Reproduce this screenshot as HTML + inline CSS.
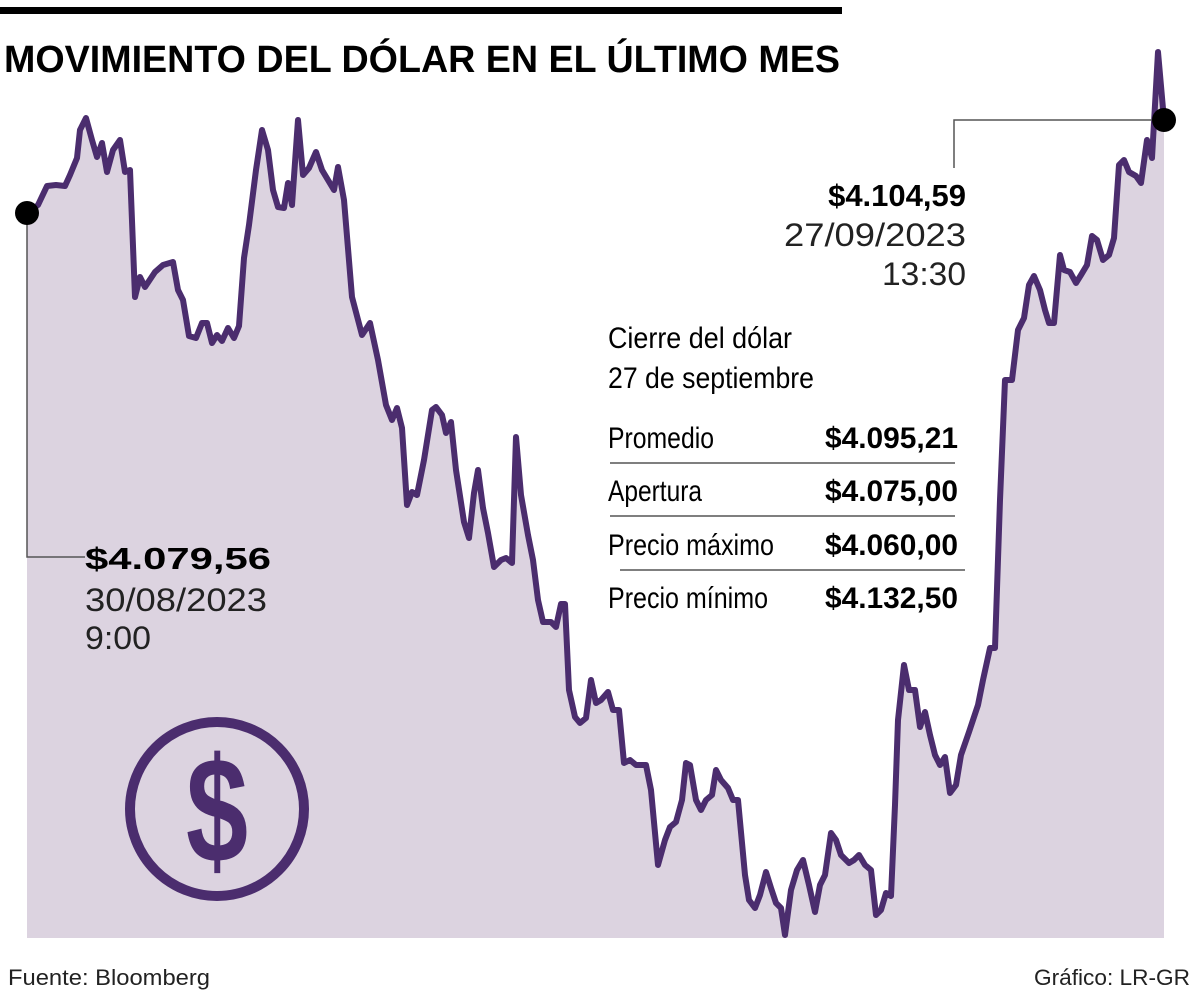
<!DOCTYPE html>
<html><head><meta charset="utf-8"><style>
html,body{margin:0;padding:0;background:#fff;width:1200px;height:996px;overflow:hidden}
svg text{font-family:"Liberation Sans",sans-serif}
</style></head><body>
<svg id="chart" width="1200" height="996" viewBox="0 0 1200 996" xmlns="http://www.w3.org/2000/svg">
<rect x="0" y="7" width="842" height="7" fill="#000"/>
<text x="4" y="72" font-size="38" font-weight="bold" textLength="836" lengthAdjust="spacingAndGlyphs">MOVIMIENTO DEL DÓLAR EN EL ÚLTIMO MES</text>
<g id="plot"></g>
<g>
<circle cx="217" cy="809" r="87" fill="none" stroke="#4b2d6e" stroke-width="10"/>
<text x="217" y="862" font-size="150" font-weight="bold" text-anchor="middle" fill="#4b2d6e" textLength="62" lengthAdjust="spacingAndGlyphs">$</text>
</g>
<polyline points="27,213 27,557 85,557" fill="none" stroke="#555" stroke-width="1.5"/>
<polyline points="954,168 954,120 1164,120" fill="none" stroke="#555" stroke-width="1.5"/>
<g id="marks"></g>
<g>
<text x="85" y="569" font-size="31" font-weight="bold" textLength="186" lengthAdjust="spacingAndGlyphs">$4.079,56</text>
<text x="85" y="611" font-size="32" fill="#222" textLength="182" lengthAdjust="spacingAndGlyphs">30/08/2023</text>
<text x="85" y="649" font-size="32" fill="#222" textLength="66" lengthAdjust="spacingAndGlyphs">9:00</text>
</g>
<g>
<text x="966" y="206" font-size="31" font-weight="bold" text-anchor="end">$4.104,59</text>
<text x="966" y="246" font-size="32" fill="#222" text-anchor="end" textLength="182" lengthAdjust="spacingAndGlyphs">27/09/2023</text>
<text x="966" y="285" font-size="32" fill="#222" text-anchor="end" textLength="84" lengthAdjust="spacingAndGlyphs">13:30</text>
</g>
<g>
<text x="608" y="348" font-size="30" textLength="184" lengthAdjust="spacingAndGlyphs">Cierre del dólar</text>
<text x="608" y="388" font-size="30" textLength="206" lengthAdjust="spacingAndGlyphs">27 de septiembre</text>
<text x="608" y="448" font-size="30" textLength="106" lengthAdjust="spacingAndGlyphs">Promedio</text>
<text x="958" y="448" font-size="30" font-weight="bold" text-anchor="end" textLength="133" lengthAdjust="spacingAndGlyphs">$4.095,21</text>
<line x1="610" y1="463" x2="955" y2="463" stroke="#333" stroke-width="1.2"/>
<text x="608" y="501" font-size="30" textLength="94" lengthAdjust="spacingAndGlyphs">Apertura</text>
<text x="958" y="501" font-size="30" font-weight="bold" text-anchor="end" textLength="133" lengthAdjust="spacingAndGlyphs">$4.075,00</text>
<line x1="610" y1="516" x2="955" y2="516" stroke="#333" stroke-width="1.2"/>
<text x="608" y="555" font-size="30" textLength="166" lengthAdjust="spacingAndGlyphs">Precio máximo</text>
<text x="958" y="555" font-size="30" font-weight="bold" text-anchor="end" textLength="133" lengthAdjust="spacingAndGlyphs">$4.060,00</text>
<line x1="620" y1="570" x2="965" y2="570" stroke="#333" stroke-width="1.2"/>
<text x="608" y="608" font-size="30" textLength="160" lengthAdjust="spacingAndGlyphs">Precio mínimo</text>
<text x="958" y="608" font-size="30" font-weight="bold" text-anchor="end" textLength="133" lengthAdjust="spacingAndGlyphs">$4.132,50</text>
</g>
<text x="8" y="985" font-size="22" fill="#222" textLength="202" lengthAdjust="spacingAndGlyphs">Fuente: Bloomberg</text>
<text x="1190" y="985" font-size="22" fill="#222" text-anchor="end" textLength="156" lengthAdjust="spacingAndGlyphs">Gráfico: LR-GR</text>
</svg>
<script>
const times = [0,11,20,29,38,43,50,53,59,65,70,75,80,86,93,98,103,108,113,118,128,136,146,151,156,162,169,175,180,185,190,195,201,207,212,217,222,229,235,241,246,251,257,261,265,271,276,282,289,295,301,307,311,317,325,335,343,351,359,365,370,375,380,385,390,397,405,409,415,419,424,429,437,442,447,451,456,461,467,474,479,485,489,494,501,506,511,516,524,529,534,538,542,548,553,559,564,569,574,581,586,592,597,603,609,619,624,631,638,643,649,655,659,663,669,674,679,685,689,694,701,706,711,718,722,728,733,739,744,749,754,758,764,770,776,782,788,793,798,804,809,814,822,827,832,838,844,849,854,859,864,868,871,877,882,888,893,898,903,908,913,918,923,929,934,942,951,956,963,968,973,978,985,991,997,1002,1007,1013,1018,1022,1027,1033,1037,1043,1049,1054,1060,1065,1070,1076,1082,1087,1092,1097,1102,1109,1114,1120,1125,1131,1137];
const prices = [4146.75,4148.75,4153.5,4153.75,4153.5,4156.25,4160.5,4167.5,4170.5,4165,4160.75,4164.25,4157,4162.5,4165,4157,4157.5,4125.75,4130.75,4128.25,4132,4133.75,4134.5,4127.5,4125,4116,4115.5,4119.25,4119.25,4114.25,4116.25,4114.75,4118,4115.5,4118.5,4135.5,4143.75,4157.5,4167.5,4162.5,4152.5,4148.25,4148,4154.25,4148.75,4170,4156.25,4158,4162,4157.5,4155,4152.5,4158.25,4150,4125.75,4116.25,4119.25,4110,4098.75,4095,4098,4093,4073.75,4077,4076.25,4085,4097.5,4098.25,4096.25,4091.75,4094.5,4082.5,4069.5,4065.5,4076.75,4082.5,4073,4066.75,4058.25,4060,4060.5,4059.25,4090.75,4076.25,4066.25,4060,4050,4044.5,4044.5,4043.25,4049,4049,4027.5,4020.75,4019.25,4020.5,4030,4024.25,4025,4027,4022.5,4022.5,4009.25,4010,4008.75,4008.75,4002.5,3983.75,3990,3993.25,3994.5,4000,4009.25,4008.75,4000,3997.5,4000,4001.25,4007.5,4005,4003,4000,4000,3981.25,3975,3973,3976.25,3982,3978,3974.25,3973,3966.25,3977.5,3982.5,3985,3978.75,3972,3978.75,3981.25,3991.75,3990,3986.25,3984.25,3985,3986.25,3983.75,3982.5,3971.25,3972.5,3976.75,3976,3998.75,4020,4033.75,4027.5,4027.5,4018.25,4022,4016.25,4011.25,4008.75,4010.75,4001.75,4003.75,4011.25,4017,4023.75,4030,4038,4038,4075,4105,4105,4117.5,4120.5,4128.75,4131,4127.5,4122.5,4119.25,4119.25,4136.25,4132.5,4132,4129.25,4131.25,4133.75,4141,4140,4135,4136.25,4140.5,4158.75,4160,4157,4156,4154.25,4165,4160.5,4187,4170];
const xDomain = [0, 1137];
const yDomain = [3965.5, 4200];
const NS = "http://www.w3.org/2000/svg";
const X0 = 27, X1 = 1164, Y0 = 938, Y1 = 0;
function xScale(t){ return X0 + (X1 - X0) * (t - xDomain[0]) / (xDomain[1] - xDomain[0]); }
function yScale(v){ return Y0 + (Y1 - Y0) * (v - yDomain[0]) / (yDomain[1] - yDomain[0]); }
const plot = document.getElementById('plot');
const marks = document.getElementById('marks');
const n = Math.min(times.length, prices.length);
let pts = [];
for (let i = 0; i < n; i++) pts.push(xScale(times[i]).toFixed(1)+','+yScale(prices[i]).toFixed(1));
const area = document.createElementNS(NS,'polygon');
area.setAttribute('points', xScale(times[0])+','+Y0+' '+pts.join(' ')+' '+xScale(times[n-1])+','+Y0);
area.setAttribute('fill','#dcd3e0');


plot.appendChild(area);
const line = document.createElementNS(NS,'polyline');
line.setAttribute('points', pts.join(' '));
line.setAttribute('fill','none');
line.setAttribute('stroke','#4b2d6e');
line.setAttribute('stroke-width','6');
line.setAttribute('stroke-linejoin','round');


plot.appendChild(line);
const d1 = document.createElementNS(NS,'circle');
d1.setAttribute('cx', xScale(times[0])); d1.setAttribute('cy', yScale(prices[0])); d1.setAttribute('r', 12);


marks.appendChild(d1);
const d2 = document.createElementNS(NS,'circle');
d2.setAttribute('cx', xScale(times[n-1])); d2.setAttribute('cy', yScale(prices[n-1])); d2.setAttribute('r', 12);


marks.appendChild(d2);
</script>
</body></html>
